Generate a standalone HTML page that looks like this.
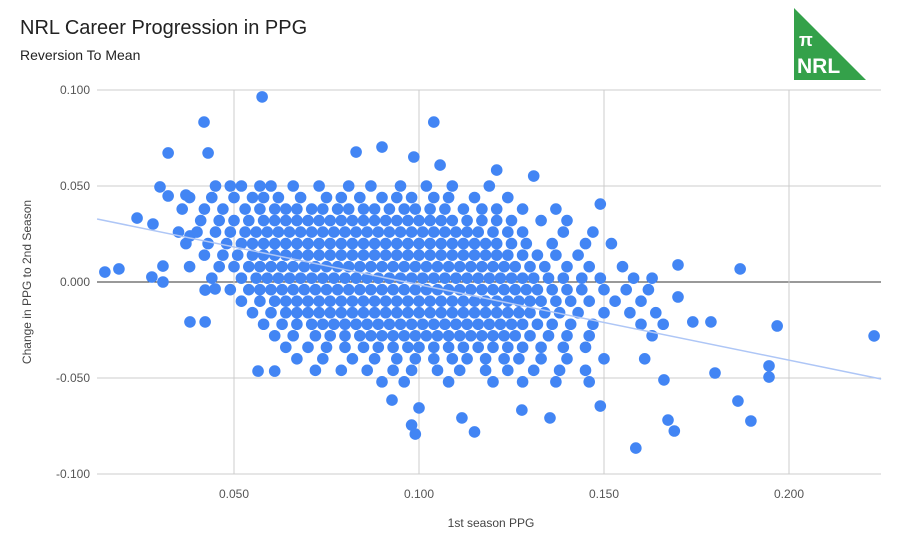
<!DOCTYPE html>
<html><head><meta charset="utf-8"><style>
html,body{margin:0;padding:0;background:#fff;}
svg{display:block;font-family:"Liberation Sans",Arial,sans-serif;}
</style></head><body>
<svg id="chart" width="899" height="544" viewBox="0 0 899 544" xmlns="http://www.w3.org/2000/svg">
<rect width="899" height="544" fill="#fff"/>
<text x="20" y="34" font-size="20" fill="#222">NRL Career Progression in PPG</text>
<text x="20" y="60" font-size="14" fill="#222">Reversion To Mean</text>
<g>
<polygon points="794,8 794,80 866,80" fill="#34a14a"/>
<text x="799" y="46" font-size="18" font-weight="bold" fill="#fff">π</text>
<text x="797" y="73" font-size="21" font-weight="bold" fill="#fff">NRL</text>
</g>
<g id="grid"></g>
<g id="marks"></g>
<g id="labels"></g>
<text x="491" y="527" font-size="12" fill="#444" text-anchor="middle">1st season PPG</text>
<text transform="translate(31,282) rotate(-90)" font-size="12" fill="#444" text-anchor="middle">Change in PPG to 2nd Season</text>
</svg>
<script>
// values in thousandths of PPG
const xTicks = [50, 100, 150, 200];
const yTicks = [100, 50, 0, -50, -100];
const xTickLabels = ["0.050", "0.100", "0.150", "0.200"];
const yTickLabels = ["0.100", "0.050", "0.000", "-0.050", "-0.100"];
const trendStart = [13, 32.8];
const trendEnd = [224.9, -50.5];
const outlierPoints = [[15.1,5.2],[18.9,6.8],[23.8,33.3],[28.1,30.2],[27.8,2.6],[30.8,0],[30,49.5],[32.2,67.2],[32.2,44.8],[30.8,8.3],[38.1,-20.8],[42.2,-20.8],[41.9,83.3],[43,67.2],[57.6,96.4],[104,83.3],[90,70.3],[83,67.7],[98.6,65.1],[105.7,60.9],[121,58.3],[131,55.2],[149,40.6],[186.8,6.8],[196.8,-22.9],[223,-28.1],[194.6,-43.7],[194.6,-49.5],[189.7,-72.4],[186.2,-62],[180,-47.4],[178.9,-20.8],[174,-20.8],[170,-7.8],[170,8.9],[166.2,-51],[167.3,-71.9],[169,-77.6],[158.6,-86.5],[149,-64.6],[135.4,-70.8],[100,-65.6],[98,-74.5],[99,-79.2],[115,-78.1],[111.6,-70.8],[127.8,-66.7],[92.7,-61.5],[56.5,-46.4],[61,-46.4],[42.2,-4.2],[44.9,-3.6],[38.1,24],[37,45.3]];
const clusterRowY = [50,44,38,32,26,20,14,8,2,-4,-10,-16,-22,-28,-34,-40,-46,-52];
const clusterRowX = [
[45,49,52,57,60,66,73,81,87,95,102,109,119],
[38,44,50,55,58,62,68,75,79,84,90,94,98,104,108,115,124],
[36,42,47,53,57,61,64,67,71,74,78,81,85,88,92,96,99,103,107,112,117,121,128,137],
[41,46,50,54,58,61,64,67,70,73,76,79,82,85,88,91,94,97,100,103,106,109,113,117,121,125,133,140],
[35,40,45,49,53,56,59,62,65,68,71,74,77,80,83,86,89,92,95,98,101,104,107,110,113,116,120,124,128,139,147],
[37,43,48,52,55,58,61,64,67,70,73,76,79,82,85,88,91,94,97,100,103,106,109,112,115,118,121,125,129,136,145,152],
[42,47,51,55,58,61,64,67,70,73,76,79,82,85,88,91,94,97,100,103,106,109,112,115,118,121,124,128,132,137,143],
[38,46,50,54,57,60,63,66,69,72,75,78,81,84,87,90,93,96,99,102,105,108,111,114,117,120,123,126,130,134,140,146,155],
[44,52,56,59,62,65,68,71,74,77,80,83,86,89,92,95,98,101,104,107,110,113,116,119,122,125,128,131,135,139,144,149,158,163],
[49,54,57,60,63,66,69,72,75,78,81,84,87,90,93,96,99,102,105,108,111,114,117,120,123,126,129,132,136,140,144,150,156,162],
[52,57,61,64,67,70,73,76,79,82,85,88,91,94,97,100,103,106,109,112,115,118,121,124,127,130,133,137,141,146,153,160],
[55,60,64,67,70,73,76,79,82,85,88,91,94,97,100,103,106,109,112,115,118,121,124,127,130,134,138,143,150,157,164],
[58,63,67,71,74,77,80,83,86,89,92,95,98,101,104,107,110,113,116,119,122,125,128,132,136,141,147,160,166],
[61,66,72,76,80,84,87,90,93,96,99,102,105,108,111,114,117,120,123,126,130,135,140,146,163],
[64,70,75,80,85,89,93,97,100,104,108,112,116,120,124,128,133,139,145],
[67,74,82,88,94,99,104,109,113,118,123,127,133,140,150,161],
[72,79,86,93,98,105,111,118,124,131,138,145],
[90,96,108,120,128,137,146]
];
const NS = "http://www.w3.org/2000/svg";
const plotLeft = 97, plotRight = 881;
function xScale(v){ return 49 + v * 3.7; }
function yScale(v){ return 282 - v * 1.92; }
const grid = document.getElementById('grid');
const marks = document.getElementById('marks');
const labels = document.getElementById('labels');
yTicks.forEach((t,i)=>{
  const l = document.createElementNS(NS,'line');
  l.setAttribute('x1',plotLeft); l.setAttribute('x2',plotRight);
  l.setAttribute('y1',yScale(t)); l.setAttribute('y2',yScale(t));
  l.setAttribute('stroke', t===0 ? '#333' : '#ccc');
  l.setAttribute('stroke-width','1');
  
  
  grid.appendChild(l);
  const tx = document.createElementNS(NS,'text');
  tx.setAttribute('x',90); tx.setAttribute('y',yScale(t)+4);
  tx.setAttribute('text-anchor','end'); tx.setAttribute('font-size','12'); tx.setAttribute('fill','#555');
  tx.textContent = yTickLabels[i];
  
  
  labels.appendChild(tx);
});
xTicks.forEach((t,i)=>{
  const l = document.createElementNS(NS,'line');
  l.setAttribute('x1',xScale(t)); l.setAttribute('x2',xScale(t));
  l.setAttribute('y1',yScale(100)); l.setAttribute('y2',yScale(-100));
  l.setAttribute('stroke','#ccc');
  
  
  grid.appendChild(l);
  const tx = document.createElementNS(NS,'text');
  tx.setAttribute('x',xScale(t)); tx.setAttribute('y',498);
  tx.setAttribute('text-anchor','middle'); tx.setAttribute('font-size','12'); tx.setAttribute('fill','#555');
  tx.textContent = xTickLabels[i];
  
  
  labels.appendChild(tx);
});
function dot(x,y){
  const c = document.createElementNS(NS,'circle');
  c.setAttribute('cx',xScale(x)); c.setAttribute('cy',yScale(y)); c.setAttribute('r','5.8');
  c.setAttribute('fill','#4285f4');
  
  
  marks.appendChild(c);
}
clusterRowY.forEach((y,i)=>{ clusterRowX[i].forEach(x=>dot(x,y)); });
outlierPoints.forEach(p=>dot(p[0],p[1]));
const tl = document.createElementNS(NS,'line');
tl.setAttribute('x1',xScale(trendStart[0])); tl.setAttribute('y1',yScale(trendStart[1]));
tl.setAttribute('x2',xScale(trendEnd[0])); tl.setAttribute('y2',yScale(trendEnd[1]));
tl.setAttribute('stroke','#aec6f6'); tl.setAttribute('stroke-width','1.5');


marks.appendChild(tl);
</script>
</body></html>
